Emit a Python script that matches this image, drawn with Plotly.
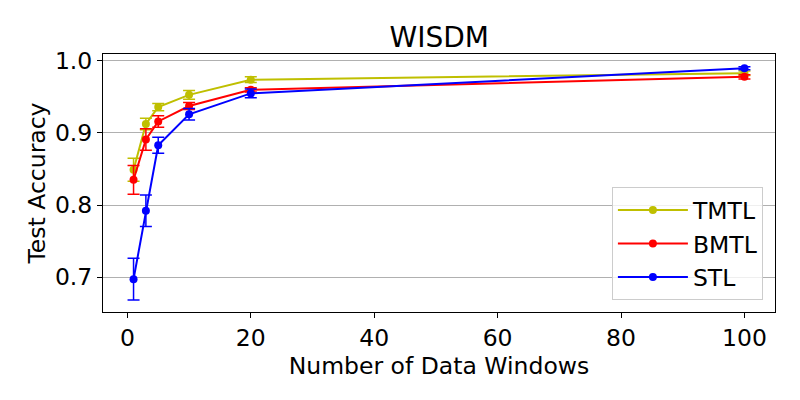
import plotly.graph_objects as go

# Number of data windows
windows = [1, 3, 5, 10, 20, 100]

# Mean test accuracy per method
tmtl_acc = [0.849, 0.9125, 0.936, 0.953, 0.974, 0.983]
bmtl_acc = [0.835, 0.891, 0.916, 0.9375, 0.960, 0.978]
stl_acc = [0.697, 0.792, 0.883, 0.926, 0.955, 0.990]

# Error bar half-widths
tmtl_err = [0.016, 0.008, 0.005, 0.006, 0.004, 0.003]
bmtl_err = [0.020, 0.015, 0.008, 0.005, 0.003, 0.003]
stl_err = [0.029, 0.022, 0.011, 0.008, 0.006, 0.002]

SERIES = [
    ("TMTL", tmtl_acc, tmtl_err, "#bfbf00"),
    ("BMTL", bmtl_acc, bmtl_err, "#ff0000"),
    ("STL", stl_acc, stl_err, "#0000ff"),
]

FONT = "DejaVu Sans"
FS = 23.5

fig = go.Figure()
for name, acc, err, color in SERIES:
    fig.add_trace(go.Scatter(
        x=windows,
        y=acc,
        mode="lines+markers",
        name=name,
        line=dict(color=color, width=2),
        marker=dict(color=color, size=8),
        error_y=dict(type="data", array=err, visible=True,
                     color=color, thickness=1.5, width=6),
    ))

# page body adds ~8px offset, so margins are shifted to compensate
fig.update_layout(
    width=800,
    height=400,
    margin=dict(l=95, r=33, t=46, b=96, autoexpand=False),
    paper_bgcolor="white",
    plot_bgcolor="white",
    font=dict(family=FONT, size=FS, color="black"),
    title=dict(text="WISDM", x=0.539, xanchor="center", y=0.9275, yanchor="middle",
               automargin=False, font=dict(family=FONT, size=28, color="black")),
    xaxis=dict(
        title=dict(text="Number of Data Windows", font=dict(size=FS), standoff=6),
        automargin=False,
        range=[-3.95, 104.95],
        tickvals=[0, 20, 40, 60, 80, 100],
        showgrid=False,
        zeroline=False,
        showline=True, linecolor="black", linewidth=1, mirror=True,
        ticks="outside", ticklen=5, tickcolor="black",
    ),
    yaxis=dict(
        title=dict(text="Test Accuracy", font=dict(size=FS), standoff=2),
        automargin=False,
        range=[0.6514, 1.0097],
        tickvals=[0.7, 0.8, 0.9, 1.0],
        tickformat=".1f",
        showgrid=True, gridcolor="#b0b0b0", gridwidth=1,
        zeroline=False,
        showline=True, linecolor="black", linewidth=1, mirror=True,
        ticks="outside", ticklen=5, tickcolor="black",
    ),
    legend=dict(
        x=0.982, y=0.046, xanchor="right", yanchor="bottom",
        bgcolor="rgba(255,255,255,0.8)",
        bordercolor="#cccccc", borderwidth=1,
        font=dict(family=FONT, size=FS),
        itemwidth=70,
        tracegroupgap=0,
    ),
)

fig.write_html("out.html")
